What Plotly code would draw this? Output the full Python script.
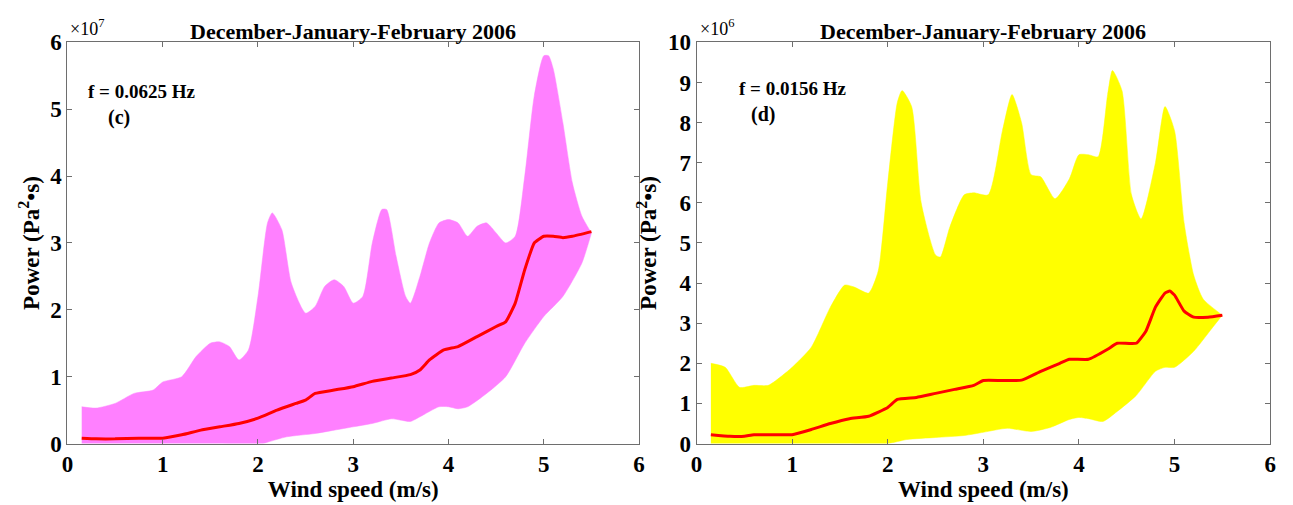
import plotly.graph_objects as go

# ---------------- Panel (c): f = 0.0625 Hz, values in units of 1e7 ----------------
c_up_x = [0.15, 0.3, 0.5, 0.7, 0.9, 1.0, 1.2, 1.35, 1.5, 1.6, 1.7, 1.8, 1.9, 2.0, 2.1, 2.15,
          2.25, 2.35, 2.5, 2.6, 2.7, 2.8, 2.9, 3.0, 3.1, 3.2, 3.3, 3.35, 3.45, 3.55, 3.6, 3.7,
          3.8, 3.9, 4.0, 4.1, 4.2, 4.3, 4.4, 4.5, 4.6, 4.7, 4.8, 4.9, 5.0, 5.05, 5.1, 5.2,
          5.3, 5.4, 5.5]
c_up_y = [0.55, 0.53, 0.6, 0.75, 0.8, 0.92, 1.0, 1.3, 1.5, 1.52, 1.45, 1.25, 1.4, 2.2, 3.3, 3.45,
          3.2, 2.4, 1.95, 2.05, 2.35, 2.45, 2.35, 2.1, 2.2, 3.0, 3.5, 3.5, 2.8, 2.2, 2.1, 2.5,
          3.0, 3.3, 3.35, 3.3, 3.1, 3.25, 3.3, 3.15, 3.0, 3.1, 4.0, 5.2, 5.8, 5.8, 5.6, 4.8,
          3.9, 3.4, 3.15]
c_lo_x = [0.15, 0.5, 1.0, 1.5, 2.05, 2.1, 2.3, 2.6, 2.8, 3.0, 3.2, 3.4, 3.5, 3.6, 3.7, 3.9,
          4.0, 4.1, 4.2, 4.4, 4.6, 4.8, 5.0, 5.2, 5.4, 5.5]
c_lo_y = [0.0, 0.0, 0.0, 0.0, 0.0, 0.02, 0.1, 0.15, 0.2, 0.25, 0.3, 0.37, 0.35, 0.33, 0.4, 0.55,
          0.55, 0.52, 0.55, 0.75, 1.0, 1.5, 1.9, 2.2, 2.7, 3.15]
c_mean_x = [0.15, 0.3, 0.5, 0.75, 1.0, 1.2, 1.4, 1.6, 1.8, 2.0, 2.2, 2.4, 2.5, 2.6, 2.8, 3.0,
            3.2, 3.4, 3.6, 3.7, 3.8, 3.95, 4.1, 4.3, 4.5, 4.6, 4.7, 4.8, 4.9, 5.0, 5.1, 5.2,
            5.3, 5.5]
c_mean_y = [0.08, 0.07, 0.07, 0.08, 0.08, 0.13, 0.2, 0.25, 0.3, 0.38, 0.5, 0.6, 0.65, 0.75, 0.8,
            0.85, 0.93, 0.98, 1.03, 1.1, 1.25, 1.4, 1.45, 1.6, 1.75, 1.82, 2.1, 2.6, 3.0, 3.1,
            3.1, 3.08, 3.1, 3.17]

# ---------------- Panel (d): f = 0.0156 Hz, values in units of 1e6 ----------------
d_up_x = [0.15, 0.3, 0.45, 0.6, 0.75, 0.9, 1.0, 1.2, 1.4, 1.55, 1.65, 1.8, 1.9, 2.0, 2.1, 2.15,
          2.25, 2.35, 2.5, 2.55, 2.65, 2.8, 2.9, 3.05, 3.2, 3.3, 3.4, 3.5, 3.6, 3.75, 3.9, 4.0,
          4.1, 4.2, 4.3, 4.35, 4.45, 4.55, 4.65, 4.8, 4.9, 5.0, 5.1, 5.2, 5.3, 5.5]
d_up_y = [2.0, 1.9, 1.4, 1.45, 1.45, 1.7, 1.9, 2.4, 3.4, 3.95, 3.9, 3.75, 4.3, 6.5, 8.5, 8.8,
          8.4, 6.0, 4.7, 4.65, 5.4, 6.2, 6.25, 6.2, 7.8, 8.7, 8.0, 6.7, 6.65, 6.1, 6.6, 7.2,
          7.2, 7.15, 8.7, 9.3, 8.8, 6.2, 5.6, 7.0, 8.4, 7.8, 5.5, 4.2, 3.6, 3.2]
d_lo_x = [0.15, 0.5, 1.0, 1.5, 2.0, 2.2, 2.5, 2.8, 3.0, 3.25, 3.5, 3.7, 3.9, 4.0, 4.1, 4.25,
          4.4, 4.6, 4.8, 4.9, 5.0, 5.2, 5.4, 5.5]
d_lo_y = [0.0, 0.0, 0.0, 0.0, 0.0, 0.1, 0.15, 0.2, 0.28, 0.38, 0.3, 0.4, 0.6, 0.65, 0.62, 0.55,
          0.8, 1.2, 1.8, 1.9, 1.9, 2.3, 2.9, 3.2]
d_mean_x = [0.15, 0.35, 0.5, 0.6, 1.0, 1.2, 1.4, 1.6, 1.8, 2.0, 2.1, 2.3, 2.5, 2.7, 2.9, 3.0,
            3.2, 3.4, 3.6, 3.8, 3.9, 4.1, 4.3, 4.4, 4.6, 4.7, 4.8, 4.9, 4.95, 5.0, 5.1, 5.2,
            5.35, 5.5]
d_mean_y = [0.22, 0.18, 0.18, 0.22, 0.22, 0.35, 0.5, 0.62, 0.68, 0.9, 1.1, 1.15, 1.25, 1.35,
            1.45, 1.57, 1.57, 1.58, 1.8, 2.0, 2.1, 2.1, 2.35, 2.5, 2.5, 2.8, 3.4, 3.75, 3.8,
            3.7, 3.3, 3.15, 3.15, 3.2]

x_ticks = [0, 1, 2, 3, 4, 5, 6]
c_yticks = [0, 1, 2, 3, 4, 5, 6]
d_yticks = [0, 1, 2, 3, 4, 5, 6, 7, 8, 9, 10]
title_text = "December-January-February 2006"
c_scale = 1e7
d_scale = 1e6

FONT = "Liberation Serif"
PINK = "#FF80FF"
YELLOW = "#FFFF00"
RED = "#FF0000"
AXC = "#6e6e6e"

fig = go.Figure()


def add_panel(xa, ya, up_x, up_y, lo_x, lo_y, m_x, m_y, scale, color):
    # closed band: lower envelope forward, upper envelope backward
    bx = list(lo_x) + list(up_x[::-1])
    by = [v * scale for v in lo_y] + [v * scale for v in up_y[::-1]]
    fig.add_trace(go.Scatter(x=bx, y=by, xaxis=xa, yaxis=ya, mode="lines",
                             line=dict(width=0.5, color=color, shape="spline", smoothing=0.6),
                             fill="toself", fillcolor=color, showlegend=False,
                             hoverinfo="skip"))
    fig.add_trace(go.Scatter(x=m_x, y=[v * scale for v in m_y], xaxis=xa, yaxis=ya,
                             mode="lines",
                             line=dict(width=3, color=RED, shape="spline", smoothing=0.4),
                             showlegend=False))


add_panel("x", "y", c_up_x, c_up_y, c_lo_x, c_lo_y, c_mean_x, c_mean_y, c_scale, PINK)
add_panel("x2", "y2", d_up_x, d_up_y, d_lo_x, d_lo_y, d_mean_x, d_mean_y, d_scale, YELLOW)

tickfont = dict(family=FONT, size=23, color="black", weight="bold")
labfont = dict(family=FONT, size=23, color="black", weight="bold")


def xaxis(domain, anchor):
    return dict(domain=domain, anchor=anchor, range=[0, 6], tickvals=x_ticks,
                ticktext=[str(t) for t in x_ticks], ticks="inside", ticklen=5,
                tickcolor=AXC, showline=True, linecolor=AXC, linewidth=1, mirror="ticks",
                showgrid=False, zeroline=False, tickfont=tickfont,
                title=dict(text="<b>Wind speed (m/s)</b>", font=labfont, standoff=0))


def yaxis(domain, anchor, ticks, scale):
    return dict(domain=domain, anchor=anchor, range=[0, ticks[-1] * scale],
                tickvals=[t * scale for t in ticks], ticktext=[str(t) for t in ticks],
                ticks="inside", ticklen=5, tickcolor=AXC, showline=True, linecolor=AXC,
                linewidth=1, mirror="ticks", showgrid=False, zeroline=False,
                tickfont=tickfont,
                title=dict(text="<b>Power (Pa<sup>2</sup>•s)</b>", font=labfont, standoff=4))


YD = [1 - 454 / 505, 1 - 32 / 505]
XD1 = [62 / 1293, 639 / 1293]
XD2 = [697 / 1293, 1276 / 1293]

fig.update_layout(
    width=1293, height=505,
    margin=dict(l=0, r=0, t=0, b=0),
    paper_bgcolor="white", plot_bgcolor="white",
    font=dict(family=FONT, color="black"),
    xaxis=xaxis(XD1, "y"), yaxis=yaxis(YD, "x", c_yticks, c_scale),
    xaxis2=xaxis(XD2, "y2"), yaxis2=yaxis(YD, "x2", d_yticks, d_scale),
)

ann = []
for dom, exp in ((XD1, 7), (XD2, 6)):
    ann.append(dict(xref="paper", yref="paper", x=dom[0] + 1 / 1293, y=YD[1] + 1 / 505,
                    xanchor="left", yanchor="bottom", showarrow=False,
                    text="×10<sup>%d</sup>" % exp,
                    font=dict(family=FONT, size=18, color="black")))
    ann.append(dict(xref="paper", yref="paper", x=(dom[0] + dom[1]) / 2, y=1 - 20 / 505,
                    xanchor="center", yanchor="middle", showarrow=False,
                    text="<b>%s</b>" % title_text,
                    font=dict(family=FONT, size=22, color="black")))
ann.append(dict(xref="x", yref="y", x=0.19, y=5.26e7, xanchor="left", yanchor="middle",
                showarrow=False, text="<b>f = 0.0625 Hz</b>",
                font=dict(family=FONT, size=19, color="black")))
ann.append(dict(xref="x", yref="y", x=0.54, y=4.88e7, xanchor="center", yanchor="middle",
                showarrow=False, text="<b>(c)</b>", font=dict(family=FONT, size=20, color="black")))
ann.append(dict(xref="x2", yref="y2", x=0.42, y=8.84e6, xanchor="left", yanchor="middle",
                showarrow=False, text="<b>f = 0.0156 Hz</b>",
                font=dict(family=FONT, size=19, color="black")))
ann.append(dict(xref="x2", yref="y2", x=0.7, y=8.2e6, xanchor="center", yanchor="middle",
                showarrow=False, text="<b>(d)</b>", font=dict(family=FONT, size=20, color="black")))
fig.update_layout(annotations=ann)

fig.write_html("out.html")
